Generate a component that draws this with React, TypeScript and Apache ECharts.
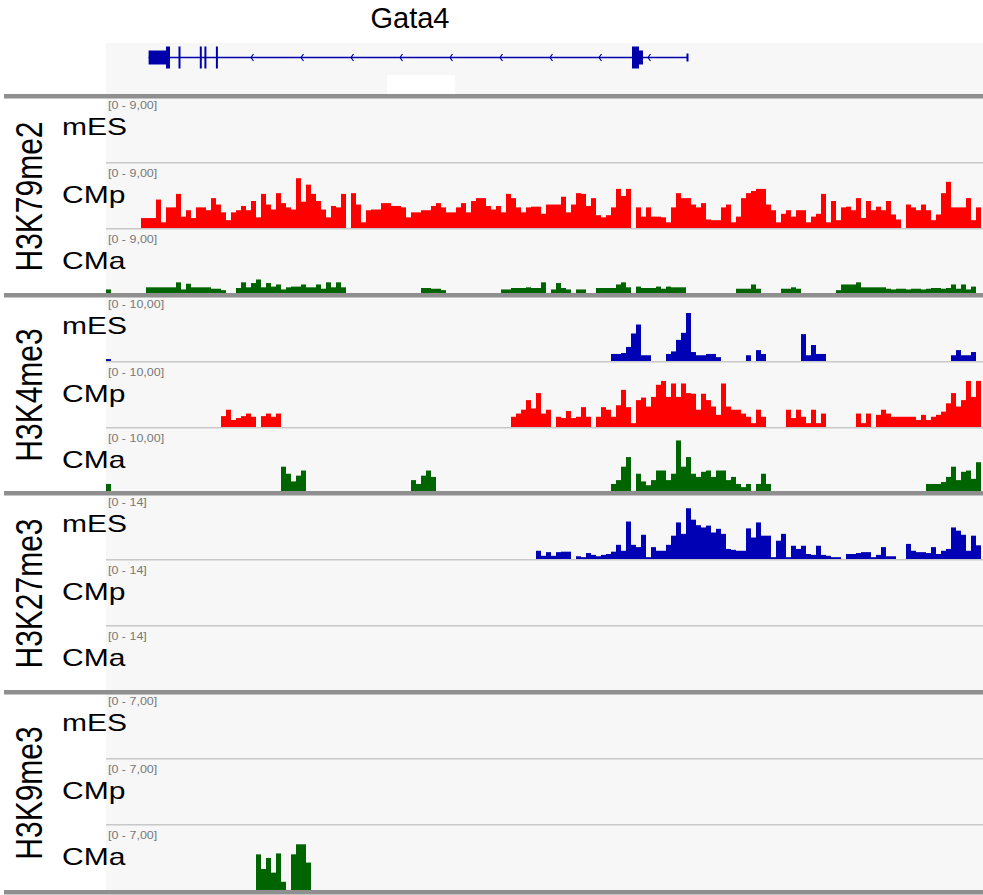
import React, { useEffect, useRef } from "react";
import * as echarts from "echarts";

type Run = [number, number[]];

// ---------------- data ----------------
const N_BINS = 175;
const BIN_CATEGORIES: string[] = Array.from({ length: N_BINS }, (_, i) => String(i));

const MARKS = ["H3K79me2", "H3K4me3", "H3K27me3", "H3K9me3"];
const CELLS = ["mES", "CMp", "CMa"];
const RANGE_MAX = [9, 10, 14, 7];
const RANGE_LABELS = ["[0 - 9,00]", "[0 - 10,00]", "[0 - 14]", "[0 - 7,00]"];
const GENE_NAME = "Gata4";

// runs of bin values: [first bin, values...]
const K79_mES: Run[] = [];
const K79_CMp: Run[] = [
  [7, [
    1.4, 1.4, 1.4, 4.0, 0.8, 2.9, 2.9, 4.8, 1.6, 2.5,
    1.4, 2.9, 2.9, 2.5, 4.2, 3.3, 2.2, 1.1, 2.2, 2.5,
    3.1, 2.5, 3.8, 1.5, 4.8, 3.3, 2.6, 4.9, 3.5, 2.9,
    2.6, 7.0, 3.7, 6.1, 4.8, 3.8, 2.6, 1.5, 3.1, 2.9,
    4.8, 0, 4.9, 3.3, 0.8, 2.5, 2.6, 2.6, 3.5, 3.5,
    3.1, 3.1, 2.9, 1.5, 2.2, 2.2, 2.5, 2.5, 3.1, 3.5,
    2.9, 2.2, 2.2, 2.9, 3.5, 2.2, 3.8, 4.2, 4.2, 3.1,
    2.6, 3.1, 2.2, 4.8, 4.2, 2.9, 2.2, 2.9, 3.0, 3.0,
    2.0, 3.3, 3.3, 3.3, 4.4, 2.2, 3.3, 4.9, 4.8, 3.1,
    4.2, 1.8, 1.5, 1.8, 2.9, 5.5, 4.5, 5.5, 0, 2.9,
    1.6, 2.9, 1.6, 1.6, 1.5, 0.8, 2.9, 4.9, 4.2, 4.2,
    3.3, 2.9, 3.5, 1.2, 1.1, 1.1, 2.9, 3.3, 0.8, 1.6,
    4.2, 4.9, 5.2, 5.5, 5.5, 3.3, 2.5, 0.8, 2.0, 2.5,
    1.6, 2.5, 2.5, 0.8, 1.6, 2.0, 4.8, 0.8, 3.8, 1.1,
    2.9, 3.0, 2.5, 4.2, 1.4, 3.8, 2.5, 3.0, 2.5, 3.8,
    1.9, 1.2, 0, 3.3, 2.9, 2.5, 3.3, 2.5, 1.1, 1.9,
    4.9, 6.5, 2.9, 2.9, 2.9, 4.2, 1.1, 2.9,
  ]],
];
const K79_CMa: Run[] = [
  [0, [0.5]],
  [8, [0.8, 0.8, 0.8, 0.8, 0.8, 0.8, 1.5, 0.5, 1.3, 0.8, 0.8, 0.8, 0.8, 0.6, 0.6, 0.4]],
  [26, [0.7, 1.5, 0.8, 1.4, 1.9, 0.8, 1.4, 0.9, 1.2, 0.5, 0.8, 0.9, 0.9, 1.2, 0.8, 0.8, 1.2, 0.6, 1.5, 0.8, 1.5, 0.8]],
  [63, [0.7, 0.7, 0.6, 0.6, 0.4]],
  [79, [0.5, 0.5, 0.7, 0.7, 0.7, 0.8, 0.7, 0.7, 1.5, 0, 0.5, 1.4, 0.7, 0.5, 0, 0.5, 0.5]],
  [98, [0.7, 0.7, 0.7, 0.7, 1.2, 1.5, 0.8, 0, 0.9, 0.7, 0.7, 0.7, 0.9, 0.6, 0.9, 0.8, 0.8, 0.8]],
  [126, [0.6, 0.6, 0.6, 1.2, 0.6]],
  [135, [0.6, 0.6, 0.8, 0.6]],
  [146, [0.4, 1.2, 1.2, 1.2, 1.5, 0.8, 0.8, 0.8, 0.8, 0.8, 0.6, 0.5, 0.6, 0.6, 0.5, 0.6, 0.6, 0.5, 0.6, 0.7, 0.7, 0.6, 0.7, 1.2, 0.6, 1.2, 0.5, 0.9]],
];

const K4_mES: Run[] = [
  [0, [0.3]],
  [101, [1.1, 1.1, 1.25, 2.2, 4.3, 5.7, 0.9, 0.9]],
  [112, [1.1, 1.5, 3.3, 4.4, 7.5, 1.4, 0.9, 0.9, 1.1, 1.1, 0.6]],
  [128, [0.9, 0, 1.7, 1.1]],
  [139, [4.2, 0.9, 2.5, 1.1, 1.1]],
  [169, [0.9, 1.7, 0.9, 0.9, 1.4]],
];
const K4_CMp: Run[] = [
  [23, [1.7, 2.7, 1.1, 1.4, 1.7, 2.1, 1.6, 0, 1.7, 2.1, 1.6, 2.1]],
  [81, [
    1.6, 2.1, 2.7, 4.2, 2.9, 5.3, 2.1, 2.7, 0, 1.6,
    1.4, 2.5, 1.4, 1.6, 3.1, 1.6, 0, 1.6, 3.1, 2.7,
    1.6, 3.4, 5.8, 3.1, 0.6, 4.2, 4.6, 3.2, 4.7, 6.6,
    7.2, 4.7, 6.8, 4.7, 6.8, 5.3, 5.2, 2.7, 5.2, 4.2,
    3.2, 1.9, 6.8, 3.2, 2.7, 2.7, 2.1, 1.6, 0.6, 2.7,
    1.6,
  ]],
  [136, [2.7, 1.4, 2.7, 1.6, 0.6, 2.7, 0.6, 2.1]],
  [150, [
    2.1, 0.6, 2.1, 0, 1.9, 2.7, 2.1, 1.6, 1.6, 1.6,
    1.6, 1.6, 1.1, 1.9, 1.1, 1.6, 1.9, 2.4, 3.7, 5.3,
    3.2, 4.2, 7.2, 4.7, 7.2,
  ]],
];
const K4_CMa: Run[] = [
  [0, [1.1]],
  [35, [3.8, 2.7, 1.5, 2.4, 3.2]],
  [61, [1.7, 1.1, 2.4, 3.2, 2.2]],
  [101, [
    1.1, 1.7, 3.8, 5.3, 0, 2.7, 1.5, 0.9, 1.7, 3.2,
    3.2, 1.7, 2.7, 7.9, 3.8, 5.3, 2.7, 2.2, 3.0, 3.2,
    2.2, 3.2, 3.2, 1.7, 2.2, 1.1, 0.6, 1.1, 0, 1.1,
    2.7, 1.1,
  ]],
  [164, [1.1, 1.1, 1.1, 1.4, 2.2, 3.8, 1.7, 3.0, 3.2, 1.9, 4.5]],
];

const K27_mES: Run[] = [
  [86, [
    1.8, 0.7, 1.5, 0.7, 1.5, 1.6, 1.6, 0, 0.6, 0.4,
    1.3, 0.9, 0.6, 0.9, 1.1, 1.6, 3.1, 1.8, 8.2, 3.1,
    2.6, 5.3, 0.4, 2.6, 1.8, 1.8, 3.1, 5.1, 8.0, 5.5,
    11.1, 8.6, 7.4, 6.9, 7.3, 5.8, 6.6, 5.5, 2.2, 2.0,
    1.8, 1.8, 6.7, 4.7, 8.0, 5.1, 5.1, 0.4, 4.0, 5.5,
    0.4, 2.9, 2.2, 2.9, 1.1, 0.9, 2.9, 0.9, 0.7, 0.4,
    0.4,
  ]],
  [148, [1.1, 1.1, 1.3, 1.5, 1.5, 0.4, 0.9, 2.6, 0.6, 0.6]],
  [160, [3.3, 1.8, 1.5, 1.5, 1.3, 2.6, 1.1, 1.8, 2.2, 6.9, 6.2, 5.3, 1.8, 5.1, 3.0]],
];
const K27_CMp: Run[] = [];
const K27_CMa: Run[] = [];

const K9_mES: Run[] = [];
const K9_CMp: Run[] = [];
const K9_CMa: Run[] = [[30, [3.9, 2.3, 3.5, 1.9, 4.0, 0.9, 0, 3.9, 5.0, 5.0, 3.0]]];

const TRACKS: Run[][][] = [
  [K79_mES, K79_CMp, K79_CMa],
  [K4_mES, K4_CMp, K4_CMa],
  [K27_mES, K27_CMp, K27_CMa],
  [K9_mES, K9_CMp, K9_CMa],
];

// gene model, in bin coordinates: [start, end, kind] (0 = UTR, 1 = coding, 2 = end tick)
const GENE_EXONS: [number, number, number][] = [
  [8.52, 12.0, 0],
  [12.0, 12.8, 1],
  [14.5, 14.9, 1],
  [18.76, 19.16, 1],
  [19.68, 20.08, 1],
  [21.98, 22.38, 1],
  [105.2, 106.6, 1],
  [106.6, 107.4, 0],
  [116.1, 116.5, 2],
];
const GENE_SPAN: [number, number][] = [[8.52, 116.3]];
const GENE_CHEVRONS = [29.0, 39.0, 49.0, 58.8, 68.8, 78.8, 88.8, 98.6, 108.4];

// ---------------- layout / style ----------------
const W = 983;
const H = 895;
const PLOT_LEFT = 106;
const PLOT_WIDTH = 875;
const SEP_TOPS = [94, 293, 491, 690, 890];
const SEP_H = 4.5;
const TRACK_H = 64;
const CELL_COLORS = ["#0000b4", "#ff0000", "#006400"];
const GENE_COLOR = "#0000aa";
const EXON_HALF = [7, 11, 4];
const FONT = '"Liberation Sans", Arial, Helvetica, sans-serif';
const STRETCH = 1.25;

function boundary(g: number, k: number) {
  return SEP_TOPS[g] + [0, 68, 134][k];
}
function baseline(g: number, k: number) {
  return k === 2 ? SEP_TOPS[g + 1] : SEP_TOPS[g] + [68, 134][k];
}
function expand(runs: Run[]): number[] {
  const a: number[] = new Array(N_BINS).fill(0);
  runs.forEach(([s, vals]) => vals.forEach((v, j) => { if (s + j < N_BINS) a[s + j] = v; }));
  return a;
}

function buildOption() {
  const grids: any[] = [];
  const xAxes: any[] = [];
  const yAxes: any[] = [];
  const series: any[] = [];
  const graphics: any[] = [];

  graphics.push({ type: "rect", z: 0, shape: { x: PLOT_LEFT, y: 43, width: W - PLOT_LEFT, height: H - 43 }, style: { fill: "#f7f7f7" } });
  graphics.push({ type: "rect", z: 1, shape: { x: 387, y: 75, width: 68, height: 19 }, style: { fill: "#ffffff" } });

  MARKS.forEach((mark, g) => {
    CELLS.forEach((cell, k) => {
      const idx = g * 3 + k;
      const base = baseline(g, k);
      grids.push({ left: PLOT_LEFT, top: base - TRACK_H, width: PLOT_WIDTH, height: TRACK_H });
      xAxes.push({ type: "category", gridIndex: idx, data: BIN_CATEGORIES, boundaryGap: true, show: false });
      yAxes.push({ type: "value", gridIndex: idx, min: 0, max: RANGE_MAX[g], show: false });
      series.push({
        type: "bar",
        name: mark + " " + cell,
        xAxisIndex: idx,
        yAxisIndex: idx,
        data: expand(TRACKS[g][k]),
        barWidth: "100%",
        barCategoryGap: "0%",
        itemStyle: { color: CELL_COLORS[k], borderWidth: 0 },
        silent: true,
      });
      const top = boundary(g, k);
      if (k < 2) {
        graphics.push({ type: "rect", z: 50, shape: { x: PLOT_LEFT, y: base, width: W - PLOT_LEFT, height: 1.5 }, style: { fill: "#c8c8c8" } });
      }
      graphics.push({
        type: "text", z: 60, x: 62, y: top + 32.7, scaleX: STRETCH,
        style: { text: cell, fontSize: 24, fontFamily: FONT, fill: "#000", align: "left", verticalAlign: "middle" },
      });
      graphics.push({
        type: "text", z: 60, x: 108, y: top + 6, scaleX: STRETCH,
        style: { text: RANGE_LABELS[g], fontSize: 10, fontFamily: FONT, fill: "#777777", align: "left", verticalAlign: "top" },
      });
    });
    graphics.push({
      type: "text", z: 60, x: 29, y: (SEP_TOPS[g] + SEP_TOPS[g + 1]) / 2 + 3,
      rotation: Math.PI / 2, scaleY: STRETCH,
      style: { text: mark, fontSize: 30, fontFamily: FONT, fill: "#000", align: "center", verticalAlign: "middle" },
    });
  });

  SEP_TOPS.forEach((y) => {
    graphics.push({ type: "rect", z: 70, shape: { x: 4, y, width: W - 4, height: SEP_H }, style: { fill: "#8f8f8f" } });
  });

  graphics.push({
    type: "text", z: 60, x: 410, y: 18,
    style: { text: GENE_NAME, fontSize: 29, fontFamily: FONT, fill: "#000", align: "center", verticalAlign: "middle" },
  });

  // gene track
  const gi = MARKS.length * CELLS.length;
  grids.push({ left: PLOT_LEFT, top: 43, width: PLOT_WIDTH, height: 29 });
  xAxes.push({ type: "value", gridIndex: gi, min: 0, max: N_BINS, show: false });
  yAxes.push({ type: "value", gridIndex: gi, min: -1, max: 1, show: false });
  series.push({
    type: "custom", xAxisIndex: gi, yAxisIndex: gi, silent: true,
    data: GENE_SPAN,
    renderItem: (_p: any, api: any) => {
      const a = api.coord([api.value(0), 0]);
      const b = api.coord([api.value(1), 0]);
      return { type: "line", shape: { x1: a[0], y1: a[1], x2: b[0], y2: b[1] }, style: { stroke: GENE_COLOR, lineWidth: 1.5 } };
    },
  });
  series.push({
    type: "custom", xAxisIndex: gi, yAxisIndex: gi, silent: true,
    data: GENE_CHEVRONS.map((v) => [v, 0]),
    renderItem: (_p: any, api: any) => {
      const c = api.coord([api.value(0), 0]);
      return {
        type: "polyline",
        shape: { points: [[c[0] + 2.5, c[1] - 3.5], [c[0], c[1]], [c[0] + 2.5, c[1] + 3.5]] },
        style: { stroke: GENE_COLOR, lineWidth: 1.2, fill: "none" },
      };
    },
  });
  series.push({
    type: "custom", xAxisIndex: gi, yAxisIndex: gi, silent: true,
    data: GENE_EXONS,
    renderItem: (_p: any, api: any) => {
      const a = api.coord([api.value(0), 0]);
      const b = api.coord([api.value(1), 0]);
      const half = EXON_HALF[api.value(2)];
      return {
        type: "rect",
        shape: { x: a[0], y: a[1] - half, width: Math.max(b[0] - a[0], 1.5), height: half * 2 },
        style: { fill: GENE_COLOR },
      };
    },
  });

  return {
    animation: false,
    backgroundColor: "#ffffff",
    grid: grids,
    xAxis: xAxes,
    yAxis: yAxes,
    series,
    graphic: { elements: graphics },
  };
}

export default function App() {
  const ref = useRef<HTMLDivElement | null>(null);
  useEffect(() => {
    if (!ref.current) return;
    const chart = echarts.init(ref.current, null, { renderer: "svg" });
    chart.setOption(buildOption() as any);
    return () => chart.dispose();
  }, []);
  return (
    <div
      ref={ref}
      style={{ position: "absolute", left: 0, top: 0, width: W, height: H, background: "#fff" }}
    />
  );
}
